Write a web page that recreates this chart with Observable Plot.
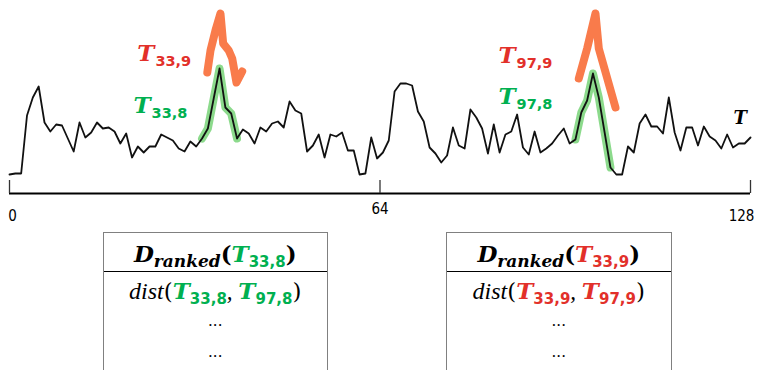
<!DOCTYPE html>
<html><head><meta charset="utf-8">
<script src="https://cdn.jsdelivr.net/npm/d3@7"></script>
<script src="https://cdn.jsdelivr.net/npm/@observablehq/plot@0.6"></script>
<style>
body{margin:0;background:#fff;}
#wrap{position:relative;width:760px;height:370px;overflow:hidden;background:#fff;}
#chart{position:absolute;left:0;top:0;}
.tbl{position:absolute;top:231.5px;width:225.5px;height:150px;border:1.5px solid #808080;border-bottom:none;box-sizing:border-box;text-align:center;color:#000;}
.hd{position:absolute;left:0;right:0;top:0;height:38px;border-bottom:1.4px solid #000;white-space:nowrap;}
.ln{position:absolute;left:0;right:0;white-space:nowrap;}
.bi{font-family:"DejaVu Serif";font-weight:bold;font-style:italic;}
.it{font-family:"Liberation Serif";font-style:italic;}
.sb{font-family:"DejaVu Sans";font-weight:bold;font-style:normal;position:relative;}
.par{font-family:"DejaVu Serif";}
.dots{font-family:"DejaVu Serif";font-size:15px;}
</style>
</head><body>
<div id="wrap"><div id="chart"></div><div id="tables"></div></div>
<script>
// ---- data ----
const series = [19,20,20,78,96,107,71,62,69,68,55,42,71,56,61,71,65,66,62,50,
  60,36,47,41,47,47,59,56,53,45,42,52,47,55,65,95,125,86,80,55,
  64,60,50,66,62,70,72,66,92,83,80,42,48,59,36,59,57,61,43,43,
  19,20,56,35,41,53,102,110,110,108,82,72,46,40,31,38,66,48,45,84,
  76,65,40,69,41,59,62,79,46,39,62,41,45,50,58,65,50,54,81,93,
  120,96,61,26,19,19,47,41,70,79,67,67,60,96,61,43,66,66,48,67,
  57,53,45,59,46,50,50,56];
const highlightStarts = [33, 97];   // green subsequences T_{33,8}, T_{97,8}
const highlightEnds = [39, 103];
const orangeA_x = [33.9, 34.45, 35.3, 36.16, 36.62, 37.58, 38.17, 38.9, 39.88];
const orangeA_v = [121, 143, 163, 180, 150, 143, 135, 111, 122];
const orangeB_x = [97.57, 99.0, 100.43, 101.0, 103.86];
const orangeB_v = [115, 145, 180, 145, 86];
const tickValues = [0, 64, 128];
const tickLabels = ["0", "64", "128"];
const labelMain = ["T", "T", "T", "T", "T"];
const labelSub = ["33,9", "33,8", "97,9", "97,8", ""];
const tableKeys = ["33,8", "33,9"];
const tablePairs = [["33,8", "97,8"], ["33,9", "97,9"]];

// ---- styles / layout ----
const GREEN = "#00b050", RED = "#e2302a", ORANGE = "#f97b4b", HL = "#7fd67f";
const labelColor = [RED, GREEN, RED, GREEN, "#000"];
const labelX = [21.9, 21.25, 83.8, 83.8, 124.1];
const labelY = [133, 81, 131, 90, 70];
const labelSize = [23, 23, 23, 23, 18];
const tickLabelY = [-27, -20, -27];
const tickLabelDx = [3, 0, -9];

const pts = series.map((v, i) => ({i, v}));
const hl = highlightStarts.flatMap((s, k) => pts.filter(d => d.i >= s && d.i <= highlightEnds[k]).map(d => ({...d, g: k})));
const orange = [
  ...orangeA_x.map((x, j) => ({x, v: orangeA_v[j], g: 0})),
  ...orangeB_x.map((x, j) => ({x, v: orangeB_v[j], g: 1}))
];
const N = series.length - 1;
const ticks = tickValues.map((t, k) => ({x: t * N / 128, label: tickLabels[k], ly: tickLabelY[k], dx: tickLabelDx[k]}));
const labels = labelMain.map((m, k) => ({main: m, sub: labelSub[k], color: labelColor[k], x: labelX[k], y: labelY[k], size: labelSize[k]}));

const svgH = 230;
const plot = Plot.plot({
  width: 760, height: svgH,
  marginLeft: 9, marginRight: 10, marginTop: 0, marginBottom: 0,
  x: {domain: [0, N], axis: null},
  y: {domain: [193 - svgH, 193], axis: null},
  marks: [
    Plot.line(hl, {x: "i", y: "v", z: "g", stroke: HL, strokeWidth: 8, strokeLinecap: "round", strokeLinejoin: "round", strokeOpacity: 0.9}),
    Plot.line(orange, {x: "x", y: "v", z: "g", stroke: ORANGE, strokeWidth: 8, strokeLinecap: "round", strokeLinejoin: "round"}),
    Plot.line(pts, {x: "i", y: "v", stroke: "#111", strokeWidth: 1.8, strokeLinejoin: "round"}),
    Plot.ruleY([0], {x1: 0, x2: N, stroke: "#000", strokeWidth: 2}),
    Plot.ruleX(ticks, {x: "x", y1: 0, y2: 13, stroke: "#333", strokeWidth: 1.3}),
    Plot.text(ticks, {x: "x", y: "ly", text: "label", textAnchor: "middle", lineAnchor: "bottom",
      fontFamily: "Liberation Sans Narrow, DejaVu Sans Condensed, sans-serif", fontSize: 15, fill: "#000", ariaDescription: "ticklabels"}),
    Plot.text(labels, {x: "x", y: "y", text: "main", fill: "color", fontSize: "size", textAnchor: "start", lineAnchor: "bottom",
      fontFamily: "DejaVu Serif", fontWeight: "bold", fontStyle: "italic", ariaDescription: "tlabels"})
  ]
});
document.getElementById("chart").appendChild(plot);

d3.select(plot).selectAll('g[aria-description="ticklabels"] text').each(function(_, k) {
  d3.select(this).attr("dx", ticks[k].dx);
});
d3.select(plot).selectAll('g[aria-description="tlabels"] text').each(function(_, k) {
  const d = labels[k];
  if (!d.sub) return;
  d3.select(this).append("tspan").attr("dy", 5).attr("dx", 1)
    .style("font-family", "DejaVu Sans").style("font-style", "normal").style("font-weight", "bold")
    .style("font-size", "14.5px").text(d.sub);
});

// ---- tables ----
const tableLeft = [102.5, 446];
const tableColor = [GREEN, RED];
const tablesDiv = document.getElementById("tables");
tableKeys.forEach((key, k) => {
  const c = tableColor[k];
  const t = document.createElement("div");
  t.className = "tbl";
  t.style.left = tableLeft[k] + "px";
  const T = (s) => `<span class="bi" style="color:${c};font-size:23px">T</span><span class="sb" style="color:${c};font-size:15px;top:5px">${s}</span>`;
  t.innerHTML =
    `<div class="hd"><div class="ln" style="top:6px;line-height:30px;font-size:23px">` +
      `<span class="bi">D</span><span class="bi" style="font-size:17px;position:relative;top:5px">ranked</span>` +
      `<span class="par" style="font-weight:bold">(</span>${T(key)}<span class="par" style="font-weight:bold">)</span></div></div>` +
    `<div class="ln" style="top:43px;line-height:30px;font-size:23px"><span class="it" style="font-size:24px">dist</span>` +
      `<span class="par">(</span>${T(tablePairs[k][0])}<span class="it">, </span>${T(tablePairs[k][1])}<span class="par">)</span></div>` +
    `<div class="ln dots" style="top:78px;line-height:20px">...</div>` +
    `<div class="ln dots" style="top:109px;line-height:20px">...</div>`;
  tablesDiv.appendChild(t);
});
</script>
</body></html>
